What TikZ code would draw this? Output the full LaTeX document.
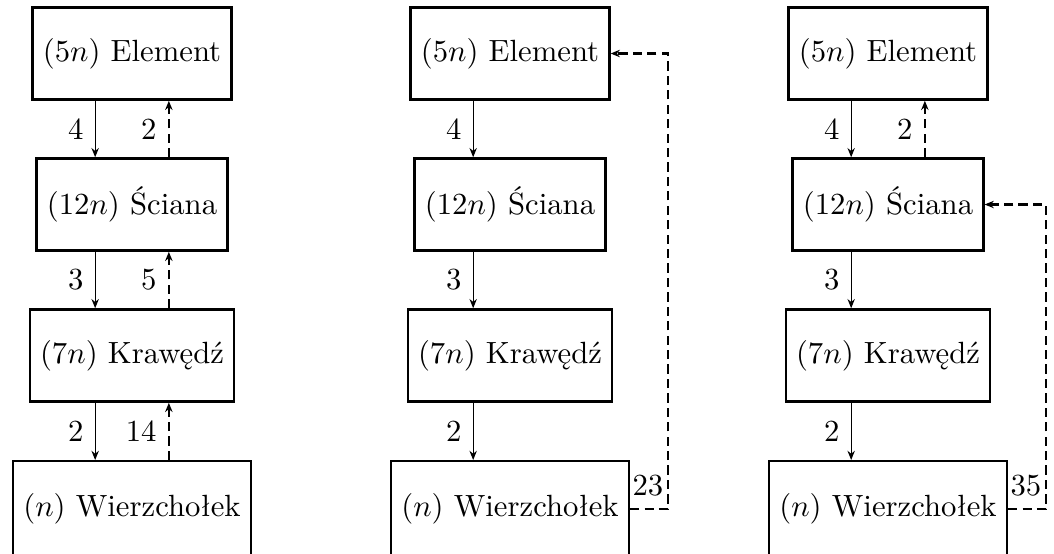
\documentclass[tikz,border=0pt]{standalone}
\usetikzlibrary{arrows.meta}
\begin{document}
\begin{tikzpicture}[x=0.3257pt,y=-0.3257pt,
  box/.style={draw,thick,minimum height=30pt,inner xsep=3.333pt},
  lowbox/.style={box,minimum height=31pt,anchor=north},
  down/.style={-{Stealth[length=3pt,width=2.4pt]}},
  up/.style={thick,dash pattern=on 3pt off 1.7pt,-{Stealth[length=3pt,width=2.4pt]}},
  lbl/.style={left,inner sep=3.6pt}]
\useasboundingbox (0,0) rectangle (1054,553);
% column 1
\node[box] (E1) at (132,53.5) {$(5n)$ Element};
\node[box] (S1) at (132,204.5) {$(12n)$ Ściana};
\node[box] (K1) at (132,355.5) {$(7n)$ Krawędź};
\node[lowbox] (W1) at (132,460) {$(n)$ Wierzchołek};
\draw[down] ([xshift=-12pt]E1.south) -- ([xshift=-12pt]S1.north) node[midway,lbl]{4};
\draw[down] ([xshift=-12pt]S1.south) -- ([xshift=-12pt]K1.north) node[midway,lbl]{3};
\draw[down] ([xshift=-12pt]K1.south) -- ([xshift=-12pt]W1.north) node[midway,lbl]{2};
\draw[up] ([xshift=12pt]S1.north) -- ([xshift=12pt]E1.south) node[midway,lbl]{2};
\draw[up] ([xshift=12pt]K1.north) -- ([xshift=12pt]S1.south) node[midway,lbl]{5};
\draw[up] ([xshift=12pt]W1.north) -- ([xshift=12pt]K1.south) node[midway,lbl]{14};
% column 2
\node[box] (E2) at (510,53.5) {$(5n)$ Element};
\node[box] (S2) at (510,204.5) {$(12n)$ Ściana};
\node[box] (K2) at (510,355.5) {$(7n)$ Krawędź};
\node[lowbox] (W2) at (510,460) {$(n)$ Wierzchołek};
\draw[down] ([xshift=-12pt]E2.south) -- ([xshift=-12pt]S2.north) node[midway,lbl]{4};
\draw[down] ([xshift=-12pt]S2.south) -- ([xshift=-12pt]K2.north) node[midway,lbl]{3};
\draw[down] ([xshift=-12pt]K2.south) -- ([xshift=-12pt]W2.north) node[midway,lbl]{2};
\path (W2.east) ++(38,0) coordinate (c2);
\draw[up] (W2.east) -- (c2) node[anchor=south east,inner xsep=1.2pt,inner ysep=3.8pt]{23} |- (E2.east);
% column 3
\node[box] (E3) at (888,53.5) {$(5n)$ Element};
\node[box] (S3) at (888,204.5) {$(12n)$ Ściana};
\node[box] (K3) at (888,355.5) {$(7n)$ Krawędź};
\node[lowbox] (W3) at (888,460) {$(n)$ Wierzchołek};
\draw[down] ([xshift=-12pt]E3.south) -- ([xshift=-12pt]S3.north) node[midway,lbl]{4};
\draw[down] ([xshift=-12pt]S3.south) -- ([xshift=-12pt]K3.north) node[midway,lbl]{3};
\draw[down] ([xshift=-12pt]K3.south) -- ([xshift=-12pt]W3.north) node[midway,lbl]{2};
\draw[up] ([xshift=12pt]S3.north) -- ([xshift=12pt]E3.south) node[midway,lbl]{2};
\path (W3.east) ++(38,0) coordinate (c3);
\draw[up] (W3.east) -- (c3) node[anchor=south east,inner xsep=1.2pt,inner ysep=3.8pt]{35} |- (S3.east);
\end{tikzpicture}
\end{document}
